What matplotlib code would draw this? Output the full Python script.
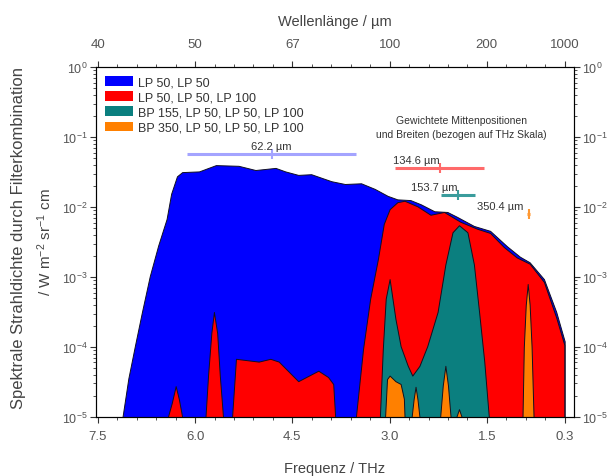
import numpy as np
import matplotlib
matplotlib.use("Agg")
import matplotlib.pyplot as plt
from matplotlib.patches import Patch
from matplotlib.ticker import MultipleLocator, LogLocator, NullFormatter

plt.rcParams["font.family"] = ["Liberation Sans", "DejaVu Sans"]
plt.rcParams["mathtext.fontset"] = "custom"
plt.rcParams["mathtext.rm"] = "Liberation Sans"
plt.rcParams["mathtext.it"] = "Liberation Sans:italic"

# frequency in THz, log10 of spectral radiance
blue_f = [7.12, 7.03, 6.93, 6.82, 6.70, 6.57, 6.44, 6.37, 6.28, 6.20, 5.94, 5.68,
          5.33, 5.07, 4.76, 4.61, 4.41, 4.21, 3.90, 3.69, 3.44, 3.23, 3.03, 2.88,
          2.68, 2.52, 2.31, 2.11, 1.96, 1.70, 1.45, 1.19, 0.99, 0.84, 0.62, 0.43,
          0.30, 0.30]
blue_log = [-5.0, -4.45, -3.99, -3.50, -2.99, -2.55, -2.17, -1.81, -1.56, -1.50,
            -1.49, -1.40, -1.41, -1.47, -1.44, -1.49, -1.54, -1.53, -1.63, -1.67,
            -1.66, -1.74, -1.84, -1.89, -1.90, -1.96, -2.06, -2.07, -2.14, -2.27,
            -2.34, -2.56, -2.71, -2.79, -3.03, -3.50, -3.92, -5.0]

red_main_f = [3.52, 3.41, 3.30, 3.18, 3.09, 3.00, 2.88, 2.77, 2.57, 2.37, 2.16,
              1.91, 1.65, 1.45, 1.24, 1.04, 0.84, 0.62, 0.43, 0.305, 0.305]
red_main_log = [-5.0, -4.03, -3.31, -2.74, -2.24, -2.03, -1.93, -1.91, -1.99, -2.11,
                -2.07, -2.21, -2.31, -2.37, -2.57, -2.72, -2.81, -3.07, -3.58, -3.97, -5.0]
red_spike1_f = [6.42, 6.36, 6.30, 6.25, 6.20]
red_spike1_log = [-5.0, -4.8, -4.56, -4.75, -5.0]
red_spike2_f = [5.84, 5.80, 5.75, 5.71, 5.66, 5.62, 5.57]
red_spike2_log = [-5.0, -4.4, -3.8, -3.5, -3.8, -4.4, -5.0]
red_block_f = [5.43, 5.37, 5.02, 4.84, 4.71, 4.41, 4.10, 3.95, 3.87, 3.84]
red_block_log = [-5.0, -4.17, -4.21, -4.17, -4.21, -4.49, -4.34, -4.43, -4.53, -5.0]

teal_f = [3.15, 3.105, 3.06, 3.00, 2.91, 2.83, 2.72, 2.65, 2.54, 2.42, 2.26, 2.14,
          2.03, 1.93, 1.80, 1.70, 1.62, 1.54, 1.47]
teal_log = [-5.0, -4.03, -3.31, -3.03, -3.60, -3.99, -4.27, -4.41, -4.27, -3.99,
            -3.50, -2.82, -2.36, -2.26, -2.36, -2.82, -3.50, -4.21, -5.0]

orange_1_f = [3.07, 3.04, 3.00, 2.91, 2.83, 2.78, 2.77]
orange_1_log = [-5.0, -4.46, -4.41, -4.49, -4.53, -4.74, -5.0]
orange_2_f = [2.66, 2.63, 2.60, 2.57, 2.54]
orange_2_log = [-5.0, -4.75, -4.57, -4.75, -5.0]
orange_3_f = [2.22, 2.18, 2.14, 2.10, 2.06]
orange_3_log = [-5.0, -4.55, -4.27, -4.55, -5.0]
orange_4_f = [1.97, 1.93, 1.89]
orange_4_log = [-5.0, -4.89, -5.0]
orange_5_f = [0.95, 0.93, 0.90, 0.87, 0.84, 0.81, 0.78]
orange_5_log = [-5.0, -4.0, -3.4, -3.1, -3.4, -4.0, -5.0]

# weighted centre positions / widths
wl_centers = [62.2, 134.6, 153.7, 350.4]
f_halfwidth = [1.30, 0.69, 0.26, 0.02]
mark_log = [-1.243, -1.443, -1.83, -2.10]

legend_labels = ["LP 50, LP 50", "LP 50, LP 50, LP 100",
                 "BP 155, LP 50, LP 50, LP 100", "BP 350, LP 50, LP 50, LP 100"]
colors = ["#0000ff", "#ff0000", "#0b7f7f", "#ff8000"]
bar_colors = ["#a4a4ff", "#ff6a6a", "#3a9c9c", "#ff9933"]

top_tick_f = [7.5, 6.0, 4.5, 3.0, 1.5, 0.3]
top_tick_labels = ["40", "50", "67", "100", "200", "1000"]

fig = plt.figure(figsize=(6.11, 4.77), dpi=100)
ax = fig.add_axes([0.157, 0.124, 0.782, 0.733])


def area(fs, logs, color):
    ax.fill_between(fs, 10 ** np.array(logs), 1e-6, facecolor=color,
                    edgecolor="#101020", lw=0.7)


area(blue_f, blue_log, colors[0])
for fs, ls in [(red_main_f, red_main_log), (red_spike1_f, red_spike1_log),
               (red_spike2_f, red_spike2_log), (red_block_f, red_block_log)]:
    area(fs, ls, colors[1])
area(teal_f, teal_log, colors[2])
for fs, ls in [(orange_1_f, orange_1_log), (orange_2_f, orange_2_log),
               (orange_3_f, orange_3_log), (orange_4_f, orange_4_log),
               (orange_5_f, orange_5_log)]:
    area(fs, ls, colors[3])

c_thz = 299.792
for wl, hw, ml, bc in zip(wl_centers, f_halfwidth, mark_log, bar_colors):
    fc = c_thz / wl
    ax.errorbar(fc, 10 ** ml, xerr=hw, fmt="|", color=bc, ecolor=bc,
                elinewidth=2.2, markersize=7, mew=1.5, capsize=0)
label_pos = [("center", 0), ("right", 0), ("right", 0), ("right", -4)]
for wl, ml, bc, (ha, dx) in zip(wl_centers, mark_log, bar_colors, label_pos):
    ax.annotate(f"{wl} µm", (c_thz / wl, 10 ** ml), xytext=(dx, 2),
                textcoords="offset points", ha=ha, va="bottom",
                fontsize=8, color="#333333")

ax.text(0.765, 0.83, "Gewichtete Mittenpositionen\nund Breiten (bezogen auf THz Skala)",
        transform=ax.transAxes, ha="center", va="center", fontsize=7.5,
        color="#333333", linespacing=1.5)

ax.set_yscale("log")
ax.set_ylim(1e-5, 1)
ax.set_xlim(7.53, 0.16)
ax.set_xticks([7.5, 6.0, 4.5, 3.0, 1.5, 0.3])
ax.set_xticklabels(["7.5", "6.0", "4.5", "3.0", "1.5", "0.3"])
ax.xaxis.set_minor_locator(MultipleLocator(0.3))
ax.yaxis.set_major_locator(LogLocator(base=10, numticks=10))
ax.yaxis.set_minor_locator(LogLocator(base=10, subs=np.arange(2, 10), numticks=10))
ax.yaxis.set_minor_formatter(NullFormatter())
ax.tick_params(which="both", direction="out", right=True, labelright=True,
               labelsize=9.5, colors="#333333", labelcolor="#555555")
ax.tick_params(axis="y", labelsize=9)
ax.tick_params(which="major", length=4.5)
ax.tick_params(which="minor", length=2.5)
ax.tick_params(axis="y", pad=1.5)
ax.tick_params(axis="x", which="both", top=False, pad=5)
for s in ax.spines.values():
    s.set_color("#333333")

top = ax.twiny()
top.set_xlim(ax.get_xlim())
top.set_xticks(top_tick_f)
top.set_xticklabels(top_tick_labels)
top.xaxis.set_minor_locator(MultipleLocator(0.3))
top.tick_params(which="both", direction="out", labelsize=9.5, colors="#333333",
                labelcolor="#555555", pad=8)
top.tick_params(which="major", length=4.5)
top.tick_params(which="minor", length=2.5)
top.set_xlabel("Wellenlänge / µm", fontsize=10.5, color="#444444", labelpad=9)

ax.set_xlabel("Frequenz / THz", fontsize=10.5, color="#444444", labelpad=14)
fig.text(19 / 611, 1 - 238 / 477, "Spektrale Strahldichte durch Filterkombination",
         rotation=90, ha="center", va="center", fontsize=12, color="#444444")
fig.text(45 / 611, 1 - 242 / 477, "/ W m$^{-2}$ sr$^{-1}$ cm",
         rotation=90, ha="center", va="center", fontsize=11, color="#444444")

handles = [Patch(facecolor=c, edgecolor="none") for c in colors]
ax.legend(handles, legend_labels, loc="upper left", frameon=False, fontsize=9,
          handlelength=2.3, handleheight=0.8, borderaxespad=0.3,
          labelspacing=0.25, handletextpad=0.4, labelcolor="#333333")

fig.savefig("out.png", dpi=100)
